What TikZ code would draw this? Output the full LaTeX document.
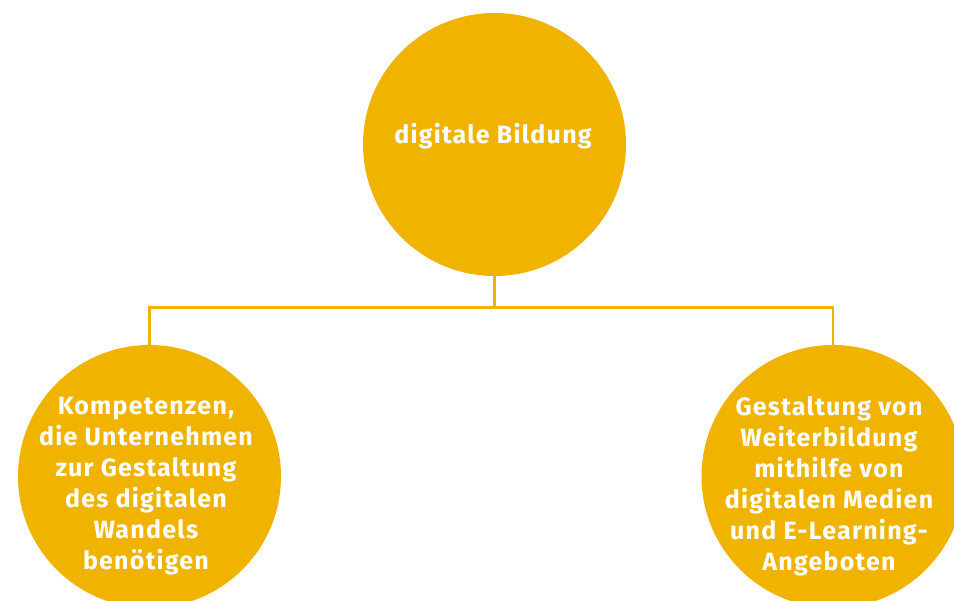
\documentclass[tikz,border=0pt]{standalone}
\usepackage{fontspec}
\setmainfont{Fira Sans}[LetterSpace=5]
\definecolor{gelb}{RGB}{240,180,0}
\begin{document}
\begin{tikzpicture}[x=1pt,y=1pt,
  circ/.style={circle,fill=gelb,draw=none,minimum size=263pt,inner sep=0pt,outer sep=0pt},
  txt/.style={text=white,font=\bfseries\fontsize{25}{30.9}\selectfont,align=center,inner sep=0pt},
  conn/.style={draw=gelb,line width=2.6pt}]
\useasboundingbox (0,0) rectangle (954,-601);
\node[circ] (top) at (494.5,-144.5) {};
\node[circ] (left) at (149.5,-476.5) {};
\node[circ] (right) at (833,-476.5) {};
\node[txt,font=\bfseries\fontsize{25}{30}\selectfont,anchor=base] (toptxt) at (493,-144) {digitale Bildung};
\node[txt,anchor=base] (lefttxt) at (146,-569) {Kompetenzen,\\die Unternehmen\\zur Gestaltung\\des digitalen\\Wandels\\benötigen};
\node[txt,anchor=base] (righttxt) at (829,-570) {Gestaltung von\\Weiterbildung\\mithilfe von\\digitalen Medien\\und E-Learning-\\Angeboten};
\coordinate (j) at (494.5,-307.5);
\draw[conn] (top.south) -- (j) -| (left.north);
\draw[conn] (j) -| (right.north);
\end{tikzpicture}
\end{document}
